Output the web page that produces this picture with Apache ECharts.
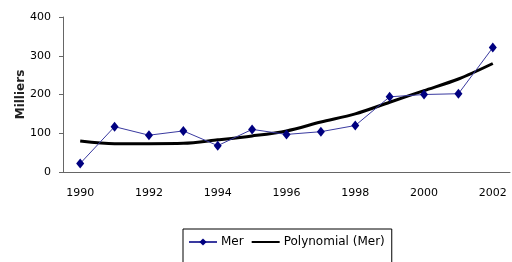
<!DOCTYPE html>
<html>
<head>
<meta charset="utf-8">
<script src="https://cdn.jsdelivr.net/npm/echarts@6/dist/echarts.min.js"></script>
<style>
  html, body { margin: 0; padding: 0; background: #fff; }
  #chart { width: 512px; height: 262px; }
</style>
</head>
<body>
<div id="chart"></div>
<script>
const years = ['1990', '1991', '1992', '1993', '1994', '1995', '1996',
  '1997', '1998', '1999', '2000', '2001', '2002']
const mer = [22, 117, 95, 106, 68, 110, 97, 104, 120, 194, 200, 202, 321]
const trend = [80, 73, 73, 74, 83, 93, 106, 129, 150, 180, 210, 240, 280]
const yTicks = [0, 100, 200, 300, 400]

const font = 'DejaVu Sans'

const chart = echarts.init(document.getElementById('chart'))

chart.setOption({
  animation: false,
  backgroundColor: '#fff',
  textStyle: { fontFamily: font, color: '#000' },
  grid: { left: 63, right: 2, top: 17, bottom: 90 },
  legend: {
    left: 183,
    top: 229,
    padding: [7, 7, 30, 5],
    itemGap: 8,
    itemWidth: 28,
    itemHeight: 9,
    borderColor: '#000',
    borderWidth: 1,
    textStyle: { fontFamily: font, fontSize: 12, color: '#000', padding: [0, 0, 0, -1] },
    data: [
      'Mer',
      { name: 'Polynomial (Mer)', icon: 'path://M0,0 L28,0 L28,2 L0,2 Z' }
    ]
  },
  xAxis: {
    type: 'category',
    data: years,
    boundaryGap: true,
    axisLine: { lineStyle: { color: '#666', width: 1 } },
    axisTick: { length: 4, interval: 0, lineStyle: { color: '#666' } },
    axisLabel: { interval: 1, margin: 16, fontSize: 11, color: '#000', fontFamily: font }
  },
  yAxis: {
    type: 'value',
    min: yTicks[0],
    max: yTicks[yTicks.length - 1],
    interval: 100,
    name: 'Milliers',
    nameLocation: 'middle',
    nameRotate: 90,
    nameGap: 36,
    nameMoveOverlap: false,
    nameTextStyle: { fontSize: 12, color: '#222', fontFamily: font, fontWeight: 'bold' },
    splitLine: { show: false },
    axisLine: { show: true, lineStyle: { color: '#666', width: 1 } },
    axisTick: { show: true, length: 4, lineStyle: { color: '#666' } },
    axisLabel: { margin: 12, fontSize: 11, color: '#000', fontFamily: font }
  },
  series: [
    {
      name: 'Mer',
      type: 'line',
      data: mer,
      symbol: 'diamond',
      symbolSize: [8, 10],
      showAllSymbol: true,
      itemStyle: { color: '#000080' },
      lineStyle: { color: '#3a3aa0', width: 1 },
      z: 3
    },
    {
      name: 'Polynomial (Mer)',
      type: 'line',
      data: trend,
      smooth: 0.3,
      symbol: 'none',
      itemStyle: { color: '#000' },
      lineStyle: { color: '#000', width: 3 },
      z: 2
    }
  ]
})
</script>
</body>
</html>
